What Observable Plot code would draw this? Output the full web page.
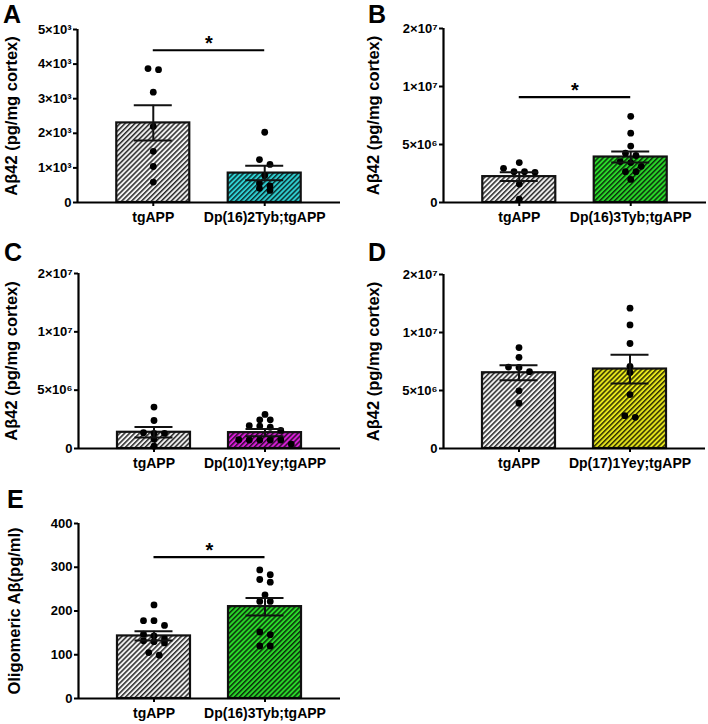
<!DOCTYPE html>
<html><head><meta charset="utf-8">
<script src="https://cdn.jsdelivr.net/npm/d3@7"></script>
<script src="https://cdn.jsdelivr.net/npm/@observablehq/plot@0.6"></script>
<style>
body{margin:0;background:#fff;}
#fig{position:relative;width:708px;height:724px;overflow:hidden;font-family:"Liberation Sans",Arial,sans-serif;}
.panel{position:absolute;}
.letter{position:absolute;font:bold 25px "Liberation Sans",Arial,sans-serif;line-height:1;color:#000;}
g[aria-label="y-axis label"], g[aria-label="y-axis label"] text{font-size:16.5px;}
</style></head><body>
<svg width="0" height="0" style="position:absolute"><defs id="pdefs"></defs></svg>
<div id="fig"></div>
<script>
// ---------- data ----------
const catsA = ["tgAPP", "Dp(16)2Tyb;tgAPP"];
const meanA = [2300, 850];
const semA = [510, 210];
const ptsA0 = [3870, 3840, 3190, 2200, 1480, 1040, 590];
const ptsA1 = [2030, 1240, 1100, 780, 560, 480, 410, 350];
const sigA = 4400;
const ticksA = [0, 1000, 2000, 3000, 4000, 5000];

const catsB = ["tgAPP", "Dp(16)3Tyb;tgAPP"];
const meanB = [2.23e6, 3.92e6];
const semB = [0.37e6, 0.48e6];
const ptsB0 = [3.44e6, 2.95e6, 2.66e6, 2.66e6, 2.6e6, 1.59e6, 0.29e6];
const ptsB1 = [7.43e6, 5.98e6, 4.86e6, 4.25e6, 4.05e6, 3.53e6, 3.44e6, 3.12e6, 2.66e6, 2.66e6, 1.99e6];
const sigB = 9.08e6;

const catsC = ["tgAPP", "Dp(10)1Yey;tgAPP"];
const meanC = [1.39e6, 1.36e6];
const semC = [0.45e6, 0.32e6];
const ptsC0 = [3.55e6, 2.4e6, 1.35e6, 1.3e6, 1.3e6, 0.8e6, 0.2e6];
const ptsC1 = [2.92e6, 2.46e6, 2.46e6, 1.95e6, 1.92e6, 1.82e6, 1.55e6, 0.75e6, 0.73e6, 0.73e6, 0.73e6, 0.73e6, 0.38e6];

const catsD = ["tgAPP", "Dp(17)1Yey;tgAPP"];
const meanD = [6.53e6, 6.85e6];
const semD = [0.64e6, 1.24e6];
const ptsD0 = [8.7e6, 7.86e6, 7.02e6, 6.99e6, 6.62e6, 4.97e6, 3.9e6];
const ptsD1 = [1.42e7, 1.13e7, 9.05e6, 7.08e6, 6.56e6, 4.65e6, 2.83e6, 2.69e6];

const ticksBig = [0, 5e6, 1e7, 2e7];

const catsE = ["tgAPP", "Dp(16)3Tyb;tgAPP"];
const meanE = [143, 210];
const semE = [10.5, 20];
const ptsE0 = [214, 178, 178, 167, 147, 143, 136, 132, 130, 127, 105, 99];
const ptsE1 = [294, 283, 272, 266, 237, 222, 222, 152, 146, 120, 120];
const sigE = 323;
const ticksE = [0, 100, 200, 300, 400];

const labelAbeta = "Aβ42 (pg/mg cortex)";
const labelOligo = "Oligomeric Aβ(pg/ml)";

// ---------- styles ----------
const patternStyles = {
  gray: ["#f2f2f2", "#2a2a2a"],
  cyan: ["#2fd0d2", "#0b2e30"],
  green: ["#2ad82a", "#0b300b"],
  magenta: ["#d81fd8", "#300b30"],
  yellow: ["#e6e61c", "#303000"]
};
const defs = document.getElementById("pdefs");
for (const [name, [bg, fg]] of Object.entries(patternStyles)) {
  defs.insertAdjacentHTML("beforeend",
    `<pattern id="h-${name}" patternUnits="userSpaceOnUse" width="3.5" height="3.5" patternTransform="rotate(45)">
       <rect width="3.5" height="3.5" fill="${bg}"/><rect width="1.5" height="3.5" fill="${fg}"/></pattern>`);
}

const sup = {"0":"⁰","1":"¹","2":"²","3":"³","4":"⁴","5":"⁵","6":"⁶","7":"⁷","8":"⁸","9":"⁹"};
function sci(d) {
  if (d === 0) return "0";
  const e = Math.floor(Math.log10(d) + 1e-9);
  const m = Math.round(d / Math.pow(10, e));
  return `${m}×10${String(e).split("").map(c => sup[c]).join("")}`;
}

const fig = document.getElementById("fig");
const XD = [-0.68, 1.68];

function panel(cfg) {
  const {left, top, w, h, ml, mr, mt, mb, cats, means, sems, pts, pats, yTicks, fmt, label, labelOffset, sig, letter, lx, ly} = cfg;
  const y0 = h - mb;
  const n = yTicks.length;
  // piecewise-linear value scale: equal spacing between consecutive ticks (as in the figure)
  const seg = d3.scaleLinear().domain(yTicks).range(d3.range(n));
  const ys = Plot.scale({y: {domain: [0, n - 1], range: [y0, mt]}});
  const unit = (w - ml - mr) / (XD[1] - XD[0]);
  const hw = 36.5 / unit, ch = 19 / unit, step = 10.5;

  const bars = means.map((m, i) => ({i, m: seg(m), lo: seg(m - sems[i]), hi: seg(m + sems[i]), fill: `url(#h-${pats[i]})`}));
  const dots = [];
  pts.forEach((arr, i) => {
    const sorted = arr.slice().sort((a, b) => b - a);
    const rows = [];
    for (const v of sorted) {
      const py = ys.apply(seg(v));
      const last = rows[rows.length - 1];
      if (last && py - last.py0 < 5) last.vals.push(v);
      else rows.push({py0: py, vals: [v]});
    }
    for (const r of rows) {
      const m = r.vals.length;
      r.vals.forEach((v, j) => dots.push({x: i + (j - (m - 1) / 2) * step / unit, y: seg(v)}));
    }
  });

  const marks = [
    Plot.rectY(bars, {x1: d => d.i - hw, x2: d => d.i + hw, y1: 0, y2: "m", fill: "fill", stroke: "#111", strokeWidth: 2.2}),
    Plot.dot(dots, {x: "x", y: "y", r: 3.4, fill: "#000"}),
    Plot.ruleX(bars, {x: "i", y1: "lo", y2: "hi", stroke: "#111", strokeWidth: 2}),
    Plot.ruleY(bars, {y: "hi", x1: d => d.i - ch, x2: d => d.i + ch, stroke: "#111", strokeWidth: 2}),
    Plot.ruleY(bars, {y: "lo", x1: d => d.i - ch, x2: d => d.i + ch, stroke: "#111", strokeWidth: 2}),
    Plot.ruleY([0], {stroke: "#000", strokeWidth: 2.2}),
    Plot.ruleX([XD[0]], {y1: 0, y2: n - 1, stroke: "#000", strokeWidth: 2.2}),
    Plot.axisY({ticks: d3.range(n), tickFormat: k => fmt(yTicks[k]), tickSize: 4, tickPadding: 2, strokeWidth: 2, fontSize: 13, fontWeight: "bold",
      label, labelAnchor: "center", labelOffset, labelArrow: "none"}),
    Plot.axisX({ticks: [0, 1], tickFormat: i => cats[i], tickSize: 4, tickPadding: 6, strokeWidth: 2, fontSize: 14, fontWeight: "bold", label: null})
  ];
  if (sig != null) {
    marks.push(Plot.ruleY([seg(sig)], {x1: 0, x2: 1, stroke: "#000", strokeWidth: 2.2}));
    marks.push(Plot.text([seg(sig)], {x: 0.5, y: d => d, text: () => "*", dy: 0, fontSize: 20, fontWeight: "bold", lineAnchor: "bottom"}));
  }

  const svg = Plot.plot({
    width: w, height: h, marginLeft: ml, marginRight: mr, marginTop: mt, marginBottom: mb,
    x: {domain: XD},
    y: {domain: [0, n - 1], range: [y0, mt], label},
    color: {type: "identity"},
    style: {fontFamily: "'Liberation Sans', Arial, sans-serif", fontWeight: "bold", color: "#000", background: "transparent", overflow: "visible"},
    marks
  });
  const div = document.createElement("div");
  div.className = "panel";
  div.style.left = left + "px";
  div.style.top = top + "px";
  div.appendChild(svg);
  fig.appendChild(div);
  const L = document.createElement("div");
  L.className = "letter";
  L.textContent = letter;
  L.style.left = lx + "px";
  L.style.top = ly + "px";
  fig.appendChild(L);
}

panel({left: 0, top: 0, w: 354, h: 240, ml: 77, mr: 14, mt: 29, mb: 38,
  cats: catsA, means: meanA, sems: semA, pts: [ptsA0, ptsA1], pats: ["gray", "cyan"],
  yTicks: ticksA, fmt: sci, label: labelAbeta, labelOffset: 72, sig: sigA, letter: "A", lx: 3, ly: 2});
panel({left: 354, top: 0, w: 354, h: 240, ml: 89, mr: 2, mt: 28, mb: 38,
  cats: catsB, means: meanB, sems: semB, pts: [ptsB0, ptsB1], pats: ["gray", "green"],
  yTicks: ticksBig, fmt: sci, label: labelAbeta, labelOffset: 76, sig: sigB, letter: "B", lx: 368, ly: 2});
panel({left: 0, top: 240, w: 354, h: 240, ml: 78, mr: 14, mt: 33, mb: 32,
  cats: catsC, means: meanC, sems: semC, pts: [ptsC0, ptsC1], pats: ["gray", "magenta"],
  yTicks: ticksBig, fmt: sci, label: labelAbeta, labelOffset: 73, sig: null, letter: "C", lx: 4, ly: 240});
panel({left: 354, top: 240, w: 354, h: 240, ml: 89, mr: 3, mt: 34, mb: 32,
  cats: catsD, means: meanD, sems: semD, pts: [ptsD0, ptsD1], pats: ["gray", "yellow"],
  yTicks: ticksBig, fmt: sci, label: labelAbeta, labelOffset: 76, sig: null, letter: "D", lx: 368, ly: 240});
panel({left: 0, top: 480, w: 354, h: 244, ml: 78, mr: 14, mt: 43, mb: 26,
  cats: catsE, means: meanE, sems: semE, pts: [ptsE0, ptsE1], pats: ["gray", "green"],
  yTicks: ticksE, fmt: d => String(d), label: labelOligo, labelOffset: 70, sig: sigE, letter: "E", lx: 7, ly: 487});
</script>
</body></html>
